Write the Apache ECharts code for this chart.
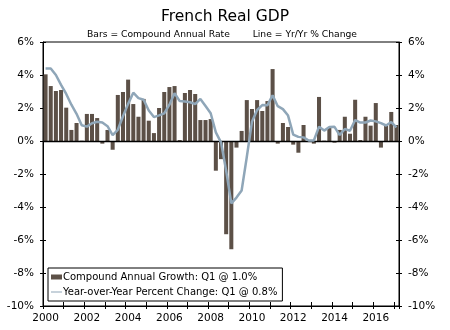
<!DOCTYPE html>
<html>
<head>
<meta charset="utf-8">
<script src="https://cdn.jsdelivr.net/npm/echarts@6/dist/echarts.min.js"></script>
<style>
html,body{margin:0;padding:0;background:#fff;}
#c{width:450px;height:330px;}
</style>
</head>
<body>
<div id="c"></div>
<script>
// Quarterly categories 2000Q1 .. 2017Q1
var quarters = [
 '2000Q1','2000Q2','2000Q3','2000Q4','2001Q1','2001Q2','2001Q3','2001Q4',
 '2002Q1','2002Q2','2002Q3','2002Q4','2003Q1','2003Q2','2003Q3','2003Q4',
 '2004Q1','2004Q2','2004Q3','2004Q4','2005Q1','2005Q2','2005Q3','2005Q4',
 '2006Q1','2006Q2','2006Q3','2006Q4','2007Q1','2007Q2','2007Q3','2007Q4',
 '2008Q1','2008Q2','2008Q3','2008Q4','2009Q1','2009Q2','2009Q3','2009Q4',
 '2010Q1','2010Q2','2010Q3','2010Q4','2011Q1','2011Q2','2011Q3','2011Q4',
 '2012Q1','2012Q2','2012Q3','2012Q4','2013Q1','2013Q2','2013Q3','2013Q4',
 '2014Q1','2014Q2','2014Q3','2014Q4','2015Q1','2015Q2','2015Q3','2015Q4',
 '2016Q1','2016Q2','2016Q3','2016Q4','2017Q1'
];
// Compound annual rate (bars)
var compoundAnnual = [
 4.04, 3.33, 3.03, 3.09, 2.02, 0.67, 1.09, 0.02,
 1.64, 1.64, 1.39, -0.16, 0.67, -0.53, 2.79, 2.97,
 3.72, 2.24, 1.47, 2.55, 1.23, 0.48, 2.00, 2.97,
 3.27, 3.33, 0.06, 2.91, 3.09, 2.85, 1.27, 1.27,
 1.33, -1.80, -1.10, -5.65, -6.56, -0.40, 0.61, 2.48,
 1.94, 2.48, 1.82, 2.42, 4.36, -0.16, 1.09, 0.85,
 -0.22, -0.71, 0.97, 0.02, -0.16, 2.67, 0.02, 0.85,
 -0.10, 0.67, 1.47, 0.44, 2.50, 0.06, 1.47, 0.93,
 2.30, -0.40, 0.93, 1.76, 0.97
];
// Year-over-year percent change (line)
var yearOverYear = [
 4.40, 4.40, 4.00, 3.40, 2.85, 2.20, 1.65, 0.95,
 0.87, 1.08, 1.17, 1.12, 0.90, 0.36, 0.68, 1.50,
 2.25, 2.93, 2.60, 2.50, 1.85, 1.45, 1.55, 1.68,
 2.20, 2.90, 2.42, 2.40, 2.35, 2.24, 2.55, 2.12,
 1.68, 0.52, -0.08, -1.80, -3.78, -3.43, -3.00, -0.97,
 1.16, 1.88, 2.18, 2.17, 2.77, 2.11, 1.93, 1.54,
 0.39, 0.25, 0.22, 0.03, 0.03, 0.87, 0.63, 0.85,
 0.86, 0.36, 0.73, 0.62, 1.27, 1.12, 1.12, 1.24,
 1.19, 1.08, 0.94, 1.15, 0.82
];
var yTicks = [-10, -8, -6, -4, -2, 0, 2, 4, 6];

var barName = 'Compound Annual Growth: Q1 @ ' + (Math.round(compoundAnnual[compoundAnnual.length-1]*10)/10).toFixed(1) + '%';
var lineName = 'Year-over-Year Percent Change: Q1 @ ' + (Math.round(yearOverYear[yearOverYear.length-1]*10)/10).toFixed(1) + '%';

var FONT = 'DejaVu Sans';
var yMin = yTicks[0], yMax = yTicks[yTicks.length-1], yInt = yTicks[1]-yTicks[0];

function yAx(pos, inside, labels) {
  return {
    type: 'value', position: pos, min: yMin, max: yMax, interval: yInt,
    splitLine: {show: false},
    axisLine: {show: !inside, lineStyle: {color: '#000', width: 1}},
    axisTick: {show: true, inside: inside, length: 3, lineStyle: {color: '#000'}},
    axisLabel: {show: labels, formatter: '{value}%', color: '#000', fontFamily: FONT, fontSize: 10.5, margin: 9}
  };
}
function xAx(inside, labels) {
  return {
    type: 'category', data: quarters, position: 'bottom', boundaryGap: true,
    axisLine: {show: !inside, onZero: false, lineStyle: {color: '#000', width: 1}},
    axisTick: {show: true, inside: inside, length: inside ? 4 : 3, interval: function (i) { return i % 4 === 0; }, lineStyle: {color: '#000'}},
    axisLabel: {show: labels, interval: function (i) { return i % 8 === 0; },
      formatter: function (v) { return v.slice(0, 4); },
      color: '#000', fontFamily: FONT, fontSize: 10.5, margin: 7}
  };
}

var chart = echarts.init(document.getElementById('c'), null, {renderer: 'canvas'});
chart.setOption({
  animation: false,
  backgroundColor: '#fff',
  title: [
    {text: 'French Real GDP', left: 'center', top: 4,
     textStyle: {fontFamily: FONT, fontSize: 15.5, fontWeight: 'normal', color: '#000'}},
    {text: 'Bars = Compound Annual Rate', left: 82, top: 25,
     textStyle: {fontFamily: FONT, fontSize: 9.2, fontWeight: 'normal', color: '#000'}},
    {text: 'Line = Yr/Yr % Change', right: 88, top: 25,
     textStyle: {fontFamily: FONT, fontSize: 9.2, fontWeight: 'normal', color: '#000'}}
  ],
  grid: {left: 43, right: 51, top: 42, bottom: 24, show: true, borderColor: '#000', borderWidth: 1, backgroundColor: 'transparent'},
  legend: {
    orient: 'vertical', left: 48, top: 268,
    backgroundColor: '#fff', borderColor: '#000', borderWidth: 1,
    padding: [4, 5, 4, 3], itemGap: 5, itemWidth: 11, itemHeight: 5,
    textStyle: {fontFamily: FONT, fontSize: 10, color: '#000', padding: [0,0,0,-4]},
    data: [
      {name: barName, icon: 'rect'},
      {name: lineName, icon: 'path://M0,0L0.01,0L0.01,10L0,10ZM0,4L24,4L24,6.2L0,6.2Z'}
    ]
  },
  xAxis: [xAx(false, true), xAx(true, false)],
  yAxis: [yAx('left', false, true), yAx('right', false, true), yAx('left', true, false), yAx('right', true, false)],
  series: [
    {
      name: barName, type: 'bar', data: compoundAnnual, xAxisIndex: 0, yAxisIndex: 0,
      barCategoryGap: '22%', itemStyle: {color: '#5c5047'},
      markLine: {silent: true, symbol: 'none', label: {show: false},
        lineStyle: {color: '#000', width: 1.3, type: 'solid'}, data: [{yAxis: 0}]}
    },
    {
      name: lineName, type: 'line', data: yearOverYear, xAxisIndex: 0, yAxisIndex: 0,
      symbol: 'none', showSymbol: false, smooth: false, z: 5,
      lineStyle: {color: '#8fa6b8', width: 2.5}, itemStyle: {color: '#8fa6b8'}
    }
  ]
});
</script>
</body>
</html>
